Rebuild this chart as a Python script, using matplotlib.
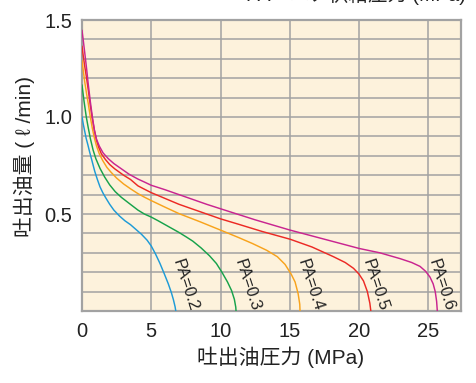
import numpy as np
import matplotlib
matplotlib.use("Agg")
import matplotlib.pyplot as plt

plt.rcParams['font.family'] = ['Liberation Sans', 'Noto Sans CJK JP', 'DejaVu Sans']

# Discharge flow vs. discharge oil pressure for each air supply pressure PA
pa_labels = ["PA=0.2", "PA=0.3", "PA=0.4", "PA=0.5", "PA=0.6"]
colors = ["#1e9bd7", "#17a24b", "#f8a31c", "#ec2a25", "#c92590"]

p_02 = [0, 0.1, 0.2, 0.3, 0.43, 0.55, 0.7, 0.92, 1.1, 1.3, 1.5, 1.7, 2.0, 2.3, 2.7, 3.1, 3.5, 3.9, 4.3,
        4.7, 5.0, 5.3, 5.63, 5.95, 6.23, 6.45, 6.6, 6.72, 6.77]
q_02 = [1.0, 0.96, 0.925, 0.89, 0.855, 0.82, 0.78, 0.72, 0.68, 0.64, 0.61, 0.585, 0.55, 0.52, 0.49, 0.465,
        0.445, 0.42, 0.395, 0.365, 0.335, 0.295, 0.245, 0.19, 0.14, 0.095, 0.058, 0.022, 0.0]

p_03 = [0, 0.15, 0.31, 0.45, 0.6, 0.8, 1.0, 1.3, 1.64, 2.0, 2.4, 2.84, 3.4, 4.04, 4.5, 5.0, 5.5, 6.0, 6.5,
        7.0, 7.5, 8.0, 8.6, 9.2, 9.7, 10.1, 10.5, 10.8, 11.0, 11.1, 11.12]
q_03 = [1.164, 1.08, 1.0, 0.945, 0.89, 0.83, 0.785, 0.735, 0.69, 0.65, 0.615, 0.586, 0.555, 0.52, 0.5,
        0.484, 0.465, 0.445, 0.425, 0.405, 0.383, 0.36, 0.325, 0.285, 0.245, 0.2, 0.15, 0.105, 0.06, 0.02, 0.0]

p_04 = [0, 0.1, 0.2, 0.33, 0.45, 0.6, 0.75, 0.9, 1.05, 1.25, 1.5, 1.8, 2.1, 2.5, 3.0, 3.5, 4.04, 4.5, 5.0,
        6.0, 7.0, 8.52, 10.0, 11.26, 12.3, 13.33, 14.1, 14.66, 15.1, 15.38, 15.6, 15.72, 15.74]
q_04 = [1.29, 1.235, 1.18, 1.12, 1.07, 1.0, 0.94, 0.89, 0.85, 0.81, 0.775, 0.74, 0.715, 0.685, 0.655, 0.63,
        0.605, 0.587, 0.569, 0.535, 0.502, 0.46, 0.417, 0.38, 0.348, 0.313, 0.28, 0.24, 0.19, 0.15, 0.09,
        0.035, 0.0]

p_05 = [0, 0.1, 0.2, 0.33, 0.45, 0.6, 0.75, 0.9, 1.05, 1.2, 1.4, 1.7, 2.0, 2.36, 3.0, 3.5, 4.04, 4.5, 5.0,
        6.0, 7.0, 8.52, 10.0, 11.26, 13.0, 15.02, 16.6, 18.15, 19.0, 19.6, 20.0, 20.32, 20.6, 20.78, 20.85]
q_05 = [1.364, 1.31, 1.26, 1.2, 1.14, 1.06, 0.99, 0.93, 0.88, 0.845, 0.81, 0.78, 0.755, 0.733, 0.7, 0.678,
        0.645, 0.628, 0.61, 0.58, 0.55, 0.512, 0.475, 0.448, 0.41, 0.37, 0.33, 0.28, 0.25, 0.22, 0.19, 0.155,
        0.1, 0.04, 0.0]

p_06 = [0, 0.1, 0.2, 0.33, 0.45, 0.6, 0.75, 0.9, 1.05, 1.25, 1.52, 1.9, 2.3, 2.8, 3.4, 4.04, 4.5, 5.0, 6.0,
        7.0, 8.0, 9.0, 10.0, 12.5, 15.02, 17.5, 20.03, 21.5, 22.96, 23.8, 24.4, 24.8, 25.12, 25.35, 25.5,
        25.6, 25.65]
q_06 = [1.446, 1.39, 1.33, 1.25, 1.17, 1.08, 1.0, 0.93, 0.885, 0.85, 0.815, 0.785, 0.76, 0.735, 0.705,
        0.68, 0.665, 0.648, 0.625, 0.6, 0.575, 0.55, 0.527, 0.47, 0.417, 0.37, 0.322, 0.3, 0.27, 0.25, 0.23,
        0.205, 0.175, 0.14, 0.1, 0.05, 0.0]

pressures = [p_02, p_03, p_04, p_05, p_06]
flows = [q_02, q_03, q_04, q_05, q_06]
label_x = [7.45, 11.9, 16.5, 21.15, 25.9]
label_y = 0.135

x_ticks = [0, 5, 10, 15, 20, 25]
y_ticks = [0.5, 1.0, 1.5]
y_tick_labels = ["0.5", "1.0", "1.5"]

fig = plt.figure(figsize=(4.76, 3.83), dpi=100)
ax = fig.add_axes([82 / 476, 1 - 311 / 383, 379 / 476, 291 / 383])
ax.set_facecolor("#fdf2dc")

grid_c = "#a2a2a2"
ax.set_xlim(0, 27.36)
ax.set_ylim(0, 1.5)
ax.set_xticks(x_ticks)
ax.set_xticklabels([str(v) for v in x_ticks])
ax.set_yticks(y_ticks)
ax.set_yticklabels(y_tick_labels)
ax.set_yticks(np.arange(0.1, 1.5, 0.1), minor=True)
ax.tick_params(axis='both', which='both', length=0, labelsize=14.5, colors="#222222")
ax.tick_params(axis='x', pad=8)
ax.tick_params(axis='y', pad=7)
ax.grid(True, which='both', color=grid_c, linewidth=1.1)
ax.set_axisbelow(True)
for s in ax.spines.values():
    s.set_color(grid_c)
    s.set_linewidth(1.6)

for p, q, c in zip(pressures, flows, colors):
    ax.plot(p, q, color=c, linewidth=1.05, solid_joinstyle='round', zorder=3)

for lx, lab in zip(label_x, pa_labels):
    ax.text(lx, label_y, lab, rotation=-72, ha='center', va='center',
            fontsize=12, color="#222222", zorder=4)

fig.text(281 / 476, 1 - 357 / 383, "吐出油圧力 (MPa)", ha='center', va='center',
         fontsize=15, color="#222222")
fig.text(24 / 476, 1 - 157 / 383, "吐出油量 ( ℓ /min)", rotation=90,
         ha='center', va='center', fontsize=15, color="#222222")

fig.text(466 / 476, 1 - 5 / 383, "PA：エア供給圧力 (MPa)", ha='right', va='bottom',
         fontsize=14, color="#222222")

fig.savefig("out.png", dpi=100)
